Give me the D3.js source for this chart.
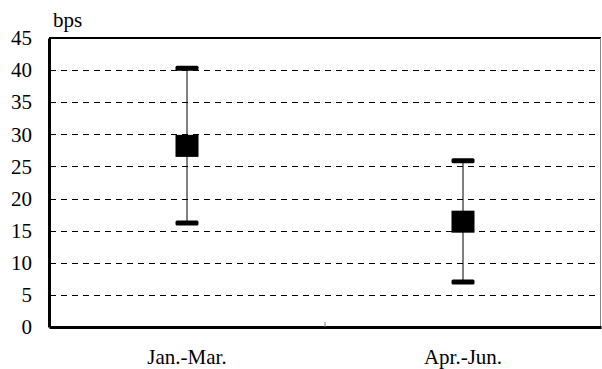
<!DOCTYPE html>
<html>
<head>
<meta charset="utf-8">
<script src="https://cdn.jsdelivr.net/npm/d3@7"></script>
<style>
  body { margin: 0; background: #fff; }
</style>
</head>
<body>
<svg id="graph" width="602" height="369"></svg>
<script>
var categories = ["Jan.-Mar.", "Apr.-Jun."];
var midValues = [28.2, 16.4];
var highValues = [40.3, 25.9];
var lowValues = [16.2, 7.0];
var yTicks = [0, 5, 10, 15, 20, 25, 30, 35, 40, 45];

var FONT = "Liberation Serif";
var svg = d3.select("#graph");
var plotLeft = 49, plotRight = 601, plotTop = 38, plotBottom = 327;

var x = d3.scaleBand().domain(categories).range([plotLeft, plotRight]);
var y = d3.scaleLinear().domain([0, 45]).range([plotBottom, plotTop]);

// dashed grid
svg.selectAll("line.grid")
    .data(yTicks.filter(function(d) { return d > 0 && d < 45; }))
    .enter()
    .append("line")
    .attr("class", "grid")
    .attr("x1", plotLeft + 1)
    .attr("x2", plotRight - 1)
    .attr("y1", function(d) { return Math.round(y(d)) + 0.5; })
    .attr("y2", function(d) { return Math.round(y(d)) + 0.5; })
    .attr("stroke", "#000")
    .attr("stroke-width", 1)
    .attr("stroke-dasharray", "6,5");

// frame
svg.append("line").attr("x1", plotLeft).attr("x2", plotRight).attr("y1", plotTop).attr("y2", plotTop)
    .attr("stroke", "#000").attr("stroke-width", 2);
svg.append("line").attr("x1", plotRight - 0.5).attr("x2", plotRight - 0.5).attr("y1", plotTop).attr("y2", plotBottom)
    .attr("stroke", "#888").attr("stroke-width", 1);

// y axis
var yAxis = svg.append("g")
    .attr("transform", "translate(" + plotLeft + ",0)")
    .call(d3.axisLeft(y).tickValues(yTicks).tickSize(0).tickPadding(17));
yAxis.attr("font-family", FONT).attr("font-size", 21);
yAxis.select(".domain").attr("stroke", "#000").attr("stroke-width", 3);
yAxis.selectAll("text").attr("fill", "#000").attr("font-family", FONT);

// x axis
var xAxis = svg.append("g")
    .attr("transform", "translate(0," + plotBottom + ")")
    .call(d3.axisBottom(x).tickSize(0).tickPadding(22));
xAxis.attr("font-family", FONT).attr("font-size", 21);
xAxis.select(".domain").attr("stroke", "#000").attr("stroke-width", 3);
xAxis.selectAll("text").attr("fill", "#000").attr("font-family", FONT);
// separator tick between categories
svg.append("line")
    .attr("x1", x(categories[1])).attr("x2", x(categories[1]))
    .attr("y1", plotBottom - 5).attr("y2", plotBottom)
    .attr("stroke", "#777").attr("stroke-width", 1);

// unit label
svg.append("text").attr("x", 53).attr("y", 27)
    .attr("font-family", FONT).attr("font-size", 21).attr("fill", "#000")
    .text("bps");

var cx = function(i) { return x(categories[i]) + x.bandwidth() / 2; };
var idx = d3.range(categories.length);

svg.selectAll("line.whisker")
    .data(idx).enter().append("line")
    .attr("class", "whisker")
    .attr("x1", cx).attr("x2", cx)
    .attr("y1", function(i) { return y(highValues[i]); })
    .attr("y2", function(i) { return y(lowValues[i]); })
    .attr("stroke", "#000").attr("stroke-width", 1);

svg.selectAll("rect.cap-hi")
    .data(idx).enter().append("rect")
    .attr("x", function(i) { return cx(i) - 11.5; })
    .attr("y", function(i) { return y(highValues[i]) - 2.5; })
    .attr("width", 23).attr("height", 5).attr("rx", 1.5)
    .attr("fill", "#000");

svg.selectAll("rect.cap-lo")
    .data(idx).enter().append("rect")
    .attr("x", function(i) { return cx(i) - 11.5; })
    .attr("y", function(i) { return y(lowValues[i]) - 2.5; })
    .attr("width", 23).attr("height", 5).attr("rx", 1.5)
    .attr("fill", "#000");

svg.selectAll("rect.mid")
    .data(idx).enter().append("rect")
    .attr("x", function(i) { return cx(i) - 11.5; })
    .attr("y", function(i) { return y(midValues[i]) - 11; })
    .attr("width", 23).attr("height", 22)
    .attr("fill", "#000");
</script>
</body>
</html>
